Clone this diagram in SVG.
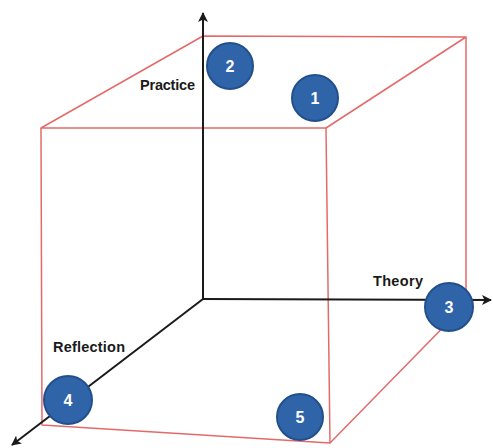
<svg xmlns="http://www.w3.org/2000/svg" width="493" height="448" viewBox="0 0 493 448">
<defs>
<style>
.edge{fill:none;stroke:#e46a6a;stroke-width:1.5;stroke-linejoin:round}
.axis{fill:none;stroke:#1a1a1a;stroke-width:2}
.node circle{fill:#2f64a9;stroke:#22508c;stroke-width:2}
.node text{fill:#ffffff;font-family:"Liberation Sans",Arial,sans-serif;font-weight:bold;font-size:16px;text-anchor:middle}
.lbl{fill:#1a1a1a;font-family:"Liberation Sans",Arial,sans-serif;font-weight:bold;font-size:14.5px}
</style>
<marker id="ah" viewBox="0 0 10 10" refX="9" refY="5" markerWidth="5" markerHeight="5" orient="auto" markerUnits="strokeWidth">
<path d="M0,0 L10,5 L0,10 L2.5,5 Z" fill="#1a1a1a"/>
</marker>
</defs>
<rect width="493" height="448" fill="#ffffff"/>
<g id="cube">
<path class="edge" d="M41,128 L203,36 L466,37 L326,128 Z"/>
<path class="edge" d="M41,128 L42,425 L330,443 L326,128"/>
<path class="edge" d="M466,37 L466,304 L330,443"/>
</g>
<g id="connectors">
<line class="axis" x1="203" y1="299" x2="203" y2="13" marker-end="url(#ah)"/>
<line class="axis" x1="203" y1="299" x2="491" y2="300" marker-end="url(#ah)"/>
<line class="axis" x1="203" y1="299" x2="12" y2="445" marker-end="url(#ah)"/>
</g>
<text class="lbl" x="140" y="90" textLength="55">Practice</text>
<text class="lbl" x="373" y="286" textLength="50">Theory</text>
<text class="lbl" x="53" y="352" textLength="72">Reflection</text>
<g id="n1" class="node"><circle cx="315" cy="98" r="23"/><text x="315" y="104">1</text></g>
<g id="n2" class="node"><circle cx="230" cy="66" r="23"/><text x="230" y="72">2</text></g>
<g id="n3" class="node"><circle cx="449" cy="307" r="24"/><text x="449" y="313">3</text></g>
<g id="n4" class="node"><circle cx="68" cy="400" r="24"/><text x="68" y="406">4</text></g>
<g id="n5" class="node"><circle cx="300" cy="417" r="23"/><text x="300" y="423">5</text></g>
</svg>
